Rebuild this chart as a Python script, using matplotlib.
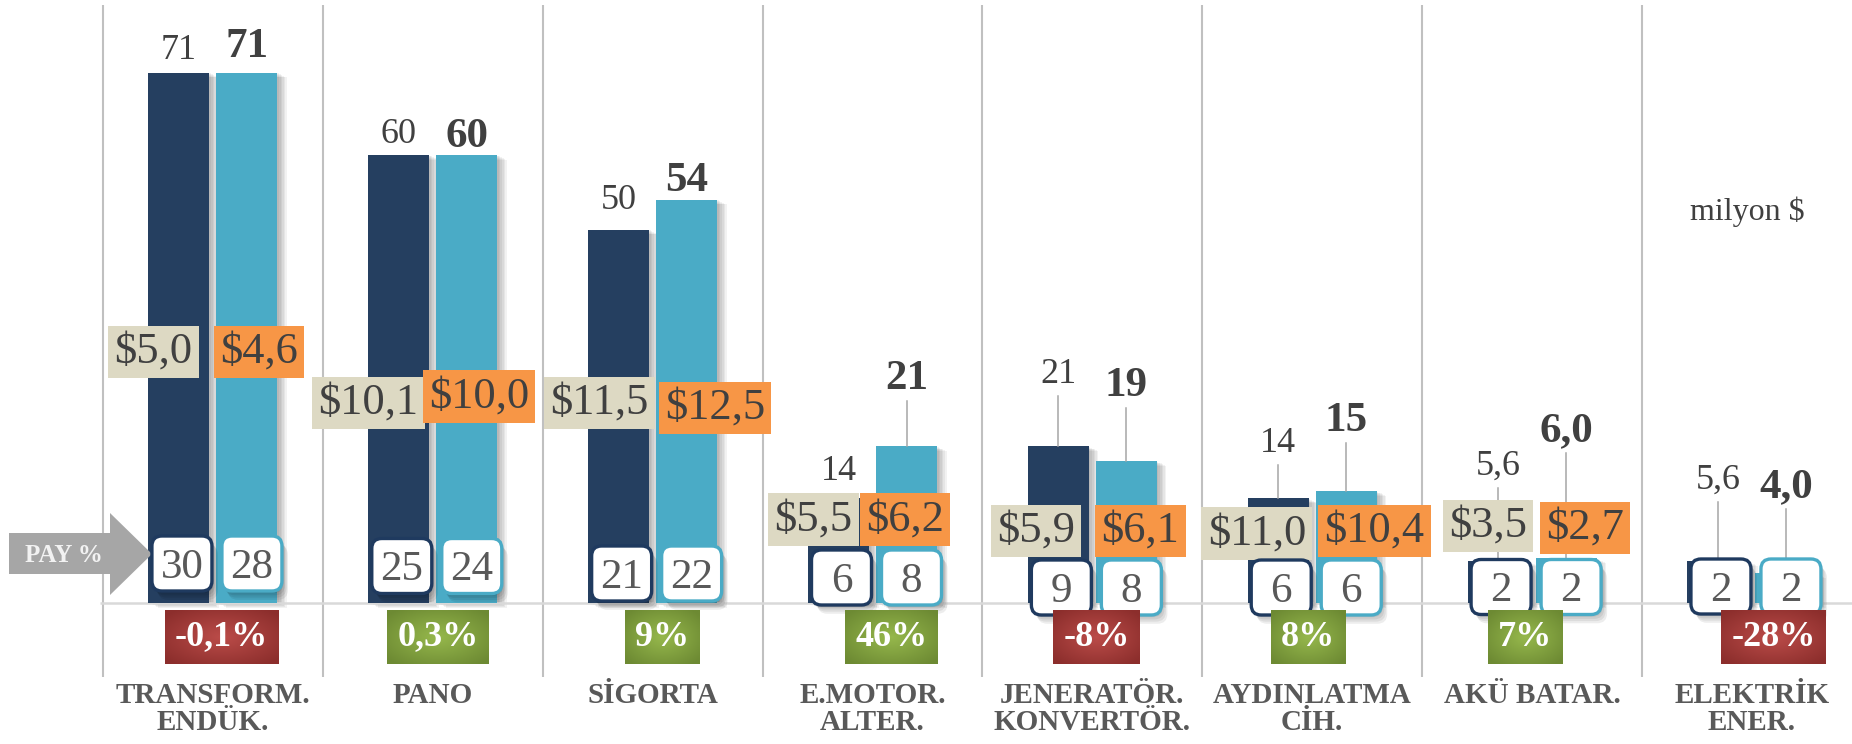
import numpy as np
import matplotlib
matplotlib.use("Agg")
import matplotlib.pyplot as plt
from matplotlib.patches import FancyBboxPatch, Polygon
from matplotlib.colors import LinearSegmentedColormap

plt.rcParams["font.family"] = ["Liberation Serif", "DejaVu Serif"]

# ---- data -------------------------------------------------------------
categories = ["TRANSFORM.\nENDÜK.", "PANO", "SİGORTA", "E.MOTOR.\nALTER.",
              "JENERATÖR.\nKONVERTÖR.", "AYDINLATMA\nCİH.", "AKÜ BATAR.",
              "ELEKTRİK\nENER."]
prev_vals = [71, 60, 50, 14, 21, 14, 5.6, 5.6]      # dark series (milyon $)
curr_vals = [71, 60, 54, 21, 19, 15, 6.0, 4.0]      # light series (milyon $)
prev_price = [5.0, 10.1, 11.5, 5.5, 5.9, 11.0, 3.5]
curr_price = [4.6, 10.0, 12.5, 6.2, 6.1, 10.4, 2.7]
prev_share = [30, 25, 21, 6, 9, 6, 2, 2]
curr_share = [28, 24, 22, 8, 8, 6, 2, 2]
change_pct = [-0.1, 0.3, 9, 46, -8, 8, 7, -28]

# ---- layout (pixels) --------------------------------------------------
W, H = 1852, 744
XPX, YPX = 219.86, 7.47          # px per category / px per unit
x0px, base_px = 103 + 0.5 * XPX, 603

def dx(p):
    return p / XPX

def dy(p):
    return p / YPX

def X(p):
    return (p - x0px) / XPX

def Y(p):
    return (base_px - p) / YPX

prev_lift = [26, 24, 33, 31, 76, 59, 99, 85]
curr_lift = [30, 22, 23, 71, 79, 74, 131, 90]
prev_leader = [False, False, False, False, True, True, True, True]
curr_leader = [False, False, False, True, True, True, True, True]
prev_price_y = [352, 403, 403, 519.5, 531, 533.5, 526]
curr_price_y = [352, 396.5, 408, 519.5, 531, 531, 528]
prev_price_right = [-14, -8, 2, -14, -11, 0, 1]
curr_price_left = [1, -10, 6, -13, 3, 6, 8]
pay_y = [563.5, 566, 573.5, 577.5, 587.5, 587.5, 587, 586.5]
pct_dx = [8.5, 5, 9.5, 19, 4, -4, -7, 21.5]

DARK, LIGHT = "#253f60", "#4aabc6"
BEIGE, ORANGE = "#ddd9c3", "#f79646"
TXT = "#404040"
red_cm = LinearSegmentedColormap.from_list("r", ["#bb4c49", "#8c2e2c"])
green_cm = LinearSegmentedColormap.from_list("g", ["#96b84c", "#6d8a33"])

def fmt(v):
    return f"{v:.0f}" if v >= 10 else f"{v:.1f}".replace(".", ",")

def fmt_pct(v):
    s = f"{v:.1f}" if abs(v) < 1 else f"{v:.0f}"
    return s.replace(".", ",") + "%"

fig = plt.figure(figsize=(W / 100, H / 100), dpi=100)
ax = fig.add_axes([0, 0, 1, 1])
ax.set_xlim(-x0px / XPX, (W - x0px) / XPX)
ax.set_ylim(-(H - base_px) / YPX, base_px / YPX)
ax.axis("off")

x = np.arange(len(categories))
bw = dx(61)
off = dx(34)

# grid + baseline
ax.vlines(np.arange(-0.5, 7, 1), Y(677), Y(5), color="#c0c0c0", lw=1.5, zorder=0)
ax.hlines(0, -0.5 - dx(3), ax.get_xlim()[1], color="#d9d9d9", lw=1.8, zorder=1.5)

# bar shadows
for k in range(1, 7):
    for xs, vals in ((x - off, prev_vals), (x + off, curr_vals)):
        ax.bar(xs + dx(1.6 * k), vals, bw, bottom=-dy(0.8 * k),
               color="black", alpha=0.05, zorder=1)

ax.bar(x - off, prev_vals, bw, color=DARK, zorder=2)
ax.bar(x + off, curr_vals, bw, color=LIGHT, zorder=2)

# value labels above bars
for i in range(len(x)):
    for xc, v, lift, lead, bold in ((x[i] - off, prev_vals[i], prev_lift[i], prev_leader[i], False),
                                    (x[i] + off, curr_vals[i], curr_lift[i], curr_leader[i], True)):
        yl = v + dy(lift)
        ax.text(xc, yl - dy(4), fmt(v), ha="center", va="center",
                fontsize=31 if bold else 26, fontweight="bold" if bold else "normal",
                color=TXT, zorder=6)
        if lead:
            ax.plot([xc, xc], [yl - dy(26), v], color="#a6a6a6", lw=1.1, zorder=3)

# price labels
pad = 0.14
pad_px = pad * 32 * 100 / 72
for i in range(len(prev_price)):
    ax.text(x[i] + dx(prev_price_right[i] - pad_px), Y(prev_price_y[i]),
            "$" + f"{prev_price[i]:.1f}".replace(".", ","), ha="right", va="center",
            fontsize=32, color=TXT, zorder=5,
            bbox=dict(boxstyle=f"square,pad={pad}", fc=BEIGE, ec="none"))
    ax.text(x[i] + dx(curr_price_left[i] + pad_px), Y(curr_price_y[i]),
            "$" + f"{curr_price[i]:.1f}".replace(".", ","), ha="left", va="center",
            fontsize=32, color=TXT, zorder=5.5,
            bbox=dict(boxstyle=f"square,pad={pad}", fc=ORANGE, ec="none"))

# share boxes
bw_box, bh_box = dx(60), dy(55)
asp = XPX / YPX
for i in range(len(x)):
    yc = Y(pay_y[i])
    for xc, s, ec in ((x[i] - off + dx(3), prev_share[i], "#1f3a5f"),
                      (x[i] + off + dx(5), curr_share[i], LIGHT)):
        for k in range(1, 5):
            ax.add_patch(FancyBboxPatch((xc - bw_box / 2 + dx(1.5 * k), yc - bh_box / 2 - dy(2.2 * k)),
                                        bw_box, bh_box,
                                        boxstyle=f"round,pad=0,rounding_size={dx(10)}",
                                        mutation_aspect=asp, fc="black", ec="none",
                                        alpha=0.07, zorder=6.5))
        ax.add_patch(FancyBboxPatch((xc - bw_box / 2, yc - bh_box / 2), bw_box, bh_box,
                                    boxstyle=f"round,pad=0,rounding_size={dx(10)}",
                                    mutation_aspect=asp, fc="white", ec=ec, lw=2.4,
                                    zorder=7))
        ax.text(xc, yc - dy(4), str(s), ha="center", va="center", fontsize=31,
                color="#595959", zorder=8)

# change boxes (radial shading like the original)
pct_texts = []
for i in range(len(x)):
    t = ax.text(x[i] + dx(pct_dx[i]), Y(637), fmt_pct(change_pct[i]), ha="center",
                va="center", fontsize=26, fontweight="bold", color="white", zorder=9,
                bbox=dict(boxstyle="square,pad=0.28", fc="none", ec="none"))
    pct_texts.append(t)

fig.canvas.draw()
inv = ax.transData.inverted()
gy, gx = np.mgrid[-1:1:60j, -1:1:120j]
radial = np.clip(np.sqrt(gx ** 2 + gy ** 2) / 1.3, 0, 1)
for t, v in zip(pct_texts, change_pct):
    ext = t.get_bbox_patch().get_window_extent()
    (x1, y1), (x2, y2) = inv.transform([(ext.x0, ext.y0), (ext.x1, ext.y1)])
    ax.imshow(radial, cmap=red_cm if v < 0 else green_cm, extent=(x1, x2, y1, y2),
              aspect="auto", interpolation="bilinear", zorder=8.5, vmin=0, vmax=1)

# category names
for i, name in enumerate(categories):
    ax.text(x[i], Y(682), name, ha="center", va="top", fontsize=21,
            fontweight="bold", color="#595959", linespacing=1.0)

# PAY % arrow
arrow = [(9, 533), (110, 533), (110, 513), (152, 554), (110, 595), (110, 574), (9, 574)]
ax.add_patch(Polygon([(X(a), Y(b)) for a, b in arrow], closed=True, fc="#a6a6a6",
                     ec="none", zorder=6))
ax.text(X(64), Y(555), "PAY %", ha="center", va="center", fontsize=18,
        fontweight="bold", color="#f2f2f2", zorder=6.2)

ax.text(X(1747), Y(212), "milyon $", ha="center", va="center", fontsize=23, color=TXT)

ax.set_xlim(-x0px / XPX, (W - x0px) / XPX)
ax.set_ylim(-(H - base_px) / YPX, base_px / YPX)
fig.savefig("out.png", dpi=100)
